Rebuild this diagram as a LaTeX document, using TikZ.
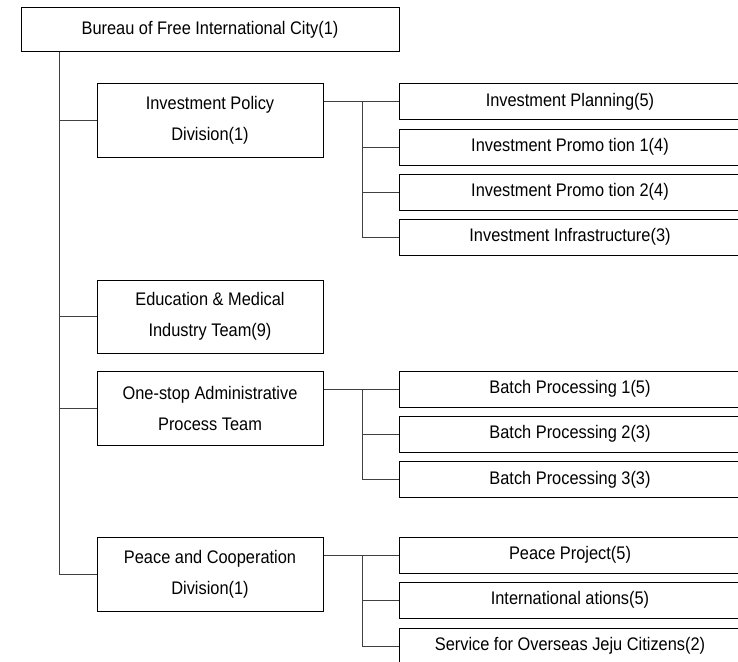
\documentclass[tikz,border=0pt]{standalone}
\usepackage{fontspec}
\setmainfont[FakeStretch=0.9]{Liberation Sans}
\begin{document}
\begin{tikzpicture}[x=1pt,y=-1pt,
  box/.style={draw=black,line width=1pt,fill=white,inner sep=0pt,align=center,
    font=\fontsize{18.2}{31}\selectfont},
  topbox/.style={box,minimum width=378pt,minimum height=44pt},
  divbox/.style={box,minimum width=226pt,minimum height=74pt},
  subbox/.style={box,minimum width=342pt,minimum height=36pt},
  link/.style={draw=black!75,line width=0.9pt}]
\useasboundingbox (0,0) rectangle (738,661);
\clip (0,0) rectangle (738,661);
\fill[white] (0,0) rectangle (738,661);
% top
\node[topbox] (top) at (210,30) {Bureau of Free International City(1)};
% divisions
\node[divbox] (ipd) at (210,120) {Investment Policy\\Division(1)};
\node[divbox,minimum height=73pt] (edu) at (210,316.5) {Education \& Medical\\Industry Team(9)};
\node[divbox] (one) at (210,408) {One-stop Administrative\\Process Team};
\node[divbox] (pcd) at (210,574) {Peace and Cooperation\\Division(1)};
% sub units
\node[subbox] (ip1) at (570,101.5) {Investment Planning(5)};
\node[subbox] (ip2) at (570,147) {Investment Promo tion 1(4)};
\node[subbox] (ip3) at (570,192) {Investment Promo tion 2(4)};
\node[subbox] (ip4) at (570,237) {Investment Infrastructure(3)};
\node[subbox] (bp1) at (570,389) {Batch Processing 1(5)};
\node[subbox] (bp2) at (570,434) {Batch Processing 2(3)};
\node[subbox] (bp3) at (570,479.5) {Batch Processing 3(3)};
\node[subbox] (pp1) at (570,555) {Peace Project(5)};
\node[subbox] (pp2) at (570,600) {International ations(5)};
\node[subbox] (pp3) at (570,646) {Service for Overseas Jeju Citizens(2)};
% trunk coordinates
\coordinate (tx) at (59,0);
\coordinate (sx) at (362,0);
% main trunk
\draw[link] (top.south -| tx) |- (pcd.west);
\draw[link] (ipd.west -| tx) -- (ipd.west);
\draw[link] (edu.west -| tx) -- (edu.west);
\draw[link] (one.west -| tx) -- (one.west);
% investment policy branch
\draw[link] (ipd.east |- ip1) -- (ip1.west);
\draw[link] (ip1.west -| sx) |- (ip4.west);
\draw[link] (ip2.west -| sx) -- (ip2.west);
\draw[link] (ip3.west -| sx) -- (ip3.west);
% one-stop branch
\draw[link] (one.east |- bp1) -- (bp1.west);
\draw[link] (bp1.west -| sx) |- (bp3.west);
\draw[link] (bp2.west -| sx) -- (bp2.west);
% peace branch
\draw[link] (pcd.east |- pp1) -- (pp1.west);
\draw[link] (pp1.west -| sx) |- (pp3.west);
\draw[link] (pp2.west -| sx) -- (pp2.west);
\end{tikzpicture}
\end{document}
